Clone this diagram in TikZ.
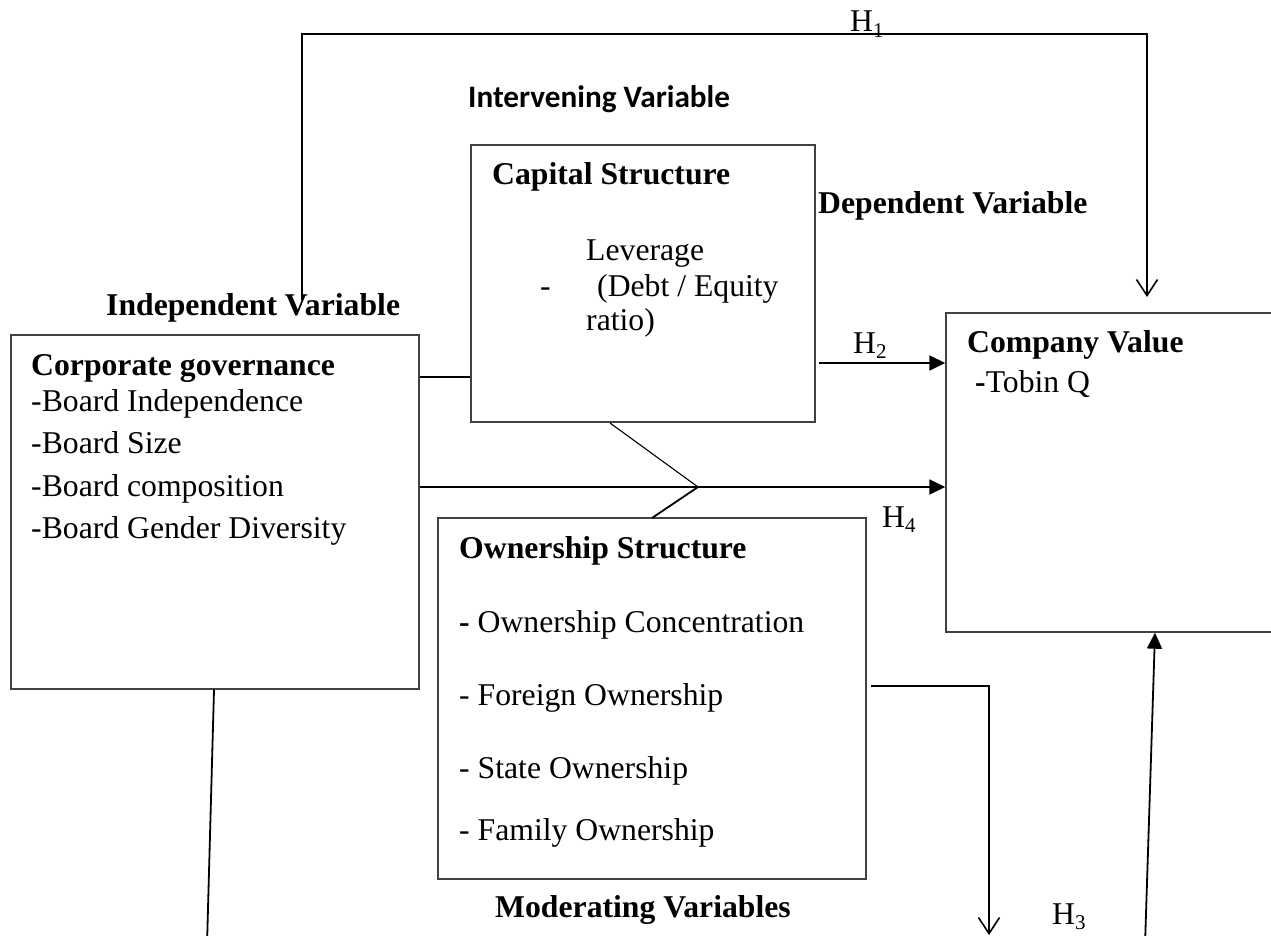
\documentclass[tikz,border=0pt]{standalone}
\usepackage{fontspec}
\setmainfont{Liberation Serif}
\newfontfamily\calib{Carlito}
\usetikzlibrary{arrows.meta}
\newcommand{\hsub}[1]{H\raisebox{-0.18em}{\fontsize{21}{21}\selectfont #1}}
\begin{document}
\begin{tikzpicture}[x=1pt,y=-1pt,
  box/.style={draw=black!75, line width=1.4pt, rectangle, inner sep=0pt},
  txt/.style={inner sep=0pt, anchor=base west, font=\fontsize{31.7}{38}\selectfont},
  btxt/.style={txt, font=\fontsize{31.7}{38}\selectfont\bfseries},
  conn/.style={line width=1.8pt, black},
  thinconn/.style={line width=1.1pt, black},
  fillarrow/.style={conn, -{Triangle[length=16pt,width=15pt]}},
  openarrow/.style={conn, -{Straight Barb[length=16pt,width=21pt,line width=1.6pt]}}
]
\useasboundingbox (0,0) rectangle (1271,936);
\clip (0,0) rectangle (1271,936);
\fill[white] (0,0) rectangle (1271,936);

% boxes
\node[box, minimum width=408pt, minimum height=354pt] (cg) at (215,512) {};
\node[box, minimum width=344pt, minimum height=277pt] (cap) at (643,283.5) {};
\node[box, minimum width=340pt, minimum height=319pt] (cv) at (1116,472.5) {};
\node[box, minimum width=428pt, minimum height=361pt] (own) at (652,698.5) {};

% box texts
\node[btxt] (cgT) at (31,375) {Corporate governance};
\node[txt] (cg1) at (31,411) {-Board Independence};
\node[txt] (cg2) at (31,453) {-Board Size};
\node[txt] (cg3) at (31,496) {-Board composition};
\node[txt] (cg4) at (31,538) {-Board Gender Diversity};

\node[btxt] (capT) at (492,185) {Capital Structure};
\node[txt] (cap1) at (586,260) {Leverage};
\node[txt] (capd) at (540,296) {-};
\node[txt] (cap2) at (597,296) {(Debt / Equity};
\node[txt] (cap3) at (586,330) {ratio)};

\node[btxt] (cvT) at (967,352) {Company Value};
\node[txt] (cv1) at (975,392) {\textbf{-}Tobin Q};

\node[btxt] (ownT) at (459,558) {Ownership Structure};
\node[txt] (own1) at (459,632) {\textbf{-} Ownership Concentration};
\node[txt] (own2) at (459,705) {- Foreign Ownership};
\node[txt] (own3) at (459,778) {- State Ownership};
\node[txt] (own4) at (459,840) {- Family Ownership};

% headings
\node[txt, font=\fontsize{31.2}{38}\selectfont\calib\bfseries] (iv) at (468,108) {Intervening Variable};
\node[btxt] (indep) at (106,315) {Independent Variable};
\node[btxt] (dep) at (818,213) {Dependent Variable};
\node[btxt] (mod) at (495,917) {Moderating Variables};

% hypothesis labels
\node[txt] (h1) at (850,32) {\hsub{1}};
\node[txt] (h2) at (853,353) {\hsub{2}};
\node[txt] (h4) at (882,527) {\hsub{4}};
\node[txt] (h3) at (1052,924) {\hsub{3}};

% connectors
\coordinate (h1s) at (302,300);
\coordinate (h1c) at (1147,34);
\coordinate (h1e) at (1147,297);
\draw[openarrow] (h1s) |- (h1c) -- (h1e);

\draw[conn] (cg.east |- 0,377) -- (cap.west |- 0,377);

\coordinate (h2s) at (819,363);
\draw[fillarrow] (h2s) -- (cv.west |- 0,363);

\draw[fillarrow] (cg.east |- 0,487) -- (cv.west |- 0,487);

\coordinate (d1) at (610,423);
\coordinate (dj) at (698,487);
\coordinate (d2) at (652,518);
\draw[thinconn] (d1) -- (dj);
\draw[conn] (dj) -- (d2);

\coordinate (h3s) at (871,686);
\coordinate (h3e) at (989,935);
\draw[openarrow] (h3s) -| (h3e);

\coordinate (brs) at (1145,945);
\draw[fillarrow] (brs) -- (cv.south -| 1155,0);

\coordinate (bls) at (207,945);
\draw[conn] (cg.south -| 214,0) -- (bls);
\end{tikzpicture}
\end{document}
